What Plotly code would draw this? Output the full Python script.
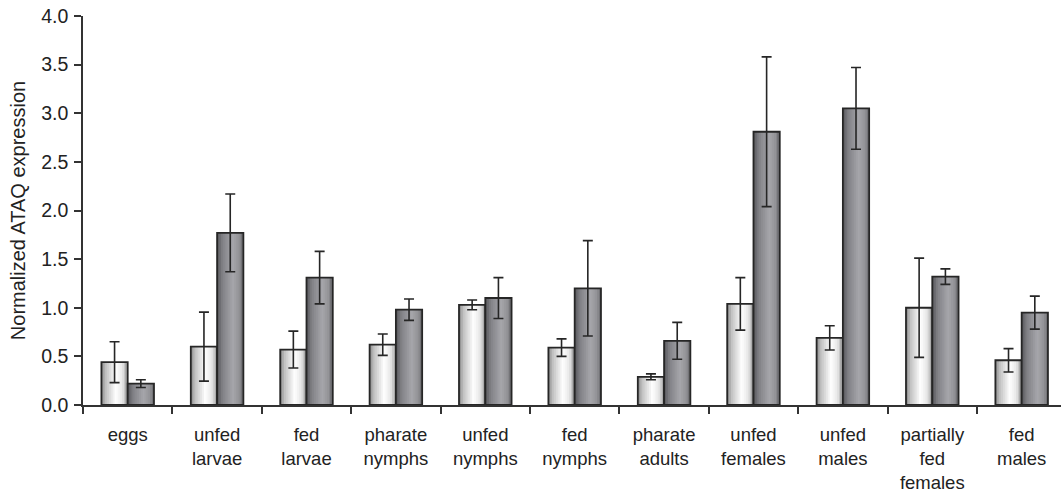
import plotly.graph_objects as go

categories = ["eggs", "unfed<br>larvae", "fed<br>larvae", "pharate<br>nymphs", "unfed<br>nymphs",
              "fed<br>nymphs", "pharate<br>adults", "unfed<br>females", "unfed<br>males",
              "partially<br>fed<br>females", "fed<br>males"]
light_vals = [0.44, 0.60, 0.57, 0.62, 1.03, 0.59, 0.29, 1.04, 0.69, 1.00, 0.46]
light_err = [0.21, 0.355, 0.19, 0.11, 0.05, 0.09, 0.03, 0.27, 0.125, 0.51, 0.12]
dark_vals = [0.22, 1.77, 1.31, 0.98, 1.10, 1.20, 0.66, 2.81, 3.05, 1.32, 0.95]
dark_err = [0.04, 0.40, 0.27, 0.11, 0.21, 0.49, 0.19, 0.77, 0.42, 0.08, 0.17]
y_ticks = [0.0, 0.5, 1.0, 1.5, 2.0, 2.5, 3.0, 3.5, 4.0]

BAR_W = 0.294
N_STRIPS = 14
LIGHT_STOPS = [(0.0, (0x86, 0x86, 0x86)), (0.15, (0xbe, 0xbe, 0xbe)), (0.55, (0xff, 0xff, 0xff)),
               (0.8, (0xe6, 0xe6, 0xe6)), (1.0, (0xa0, 0xa0, 0xa0))]
DARK_STOPS = [(0.0, (0x56, 0x56, 0x5a)), (0.2, (0x80, 0x80, 0x85)), (0.6, (0xa6, 0xa6, 0xab)),
              (0.85, (0x92, 0x92, 0x96)), (1.0, (0x6a, 0x6a, 0x6e))]


def grad(stops, t):
    for (t0, c0), (t1, c1) in zip(stops[:-1], stops[1:]):
        if t0 <= t <= t1:
            f = (t - t0) / (t1 - t0)
            r, g, b = (round(a + (b_ - a) * f) for a, b_ in zip(c0, c1))
            return f"rgb({r},{g},{b})"
    return "rgb(255,255,255)"


fig = go.Figure()
EDGE = "#262626"

for vals, errs, base_off, stops in [(light_vals, light_err, -BAR_W, LIGHT_STOPS),
                                    (dark_vals, dark_err, 0.0, DARK_STOPS)]:
    step = BAR_W / N_STRIPS
    for k in range(N_STRIPS):
        fig.add_trace(go.Bar(
            x=categories, y=vals, offset=base_off + k * step, width=BAR_W - k * step,
            marker=dict(color=grad(stops, (k + 0.5) / N_STRIPS), line=dict(width=0)),
            showlegend=False, hoverinfo="skip"))
    fig.add_trace(go.Bar(
        x=categories, y=vals, offset=base_off, width=BAR_W,
        marker=dict(color="rgba(0,0,0,0)", line=dict(color=EDGE, width=1.8)),
        error_y=dict(type="data", array=errs, visible=True, color=EDGE, thickness=1.6, width=5),
        showlegend=False))

fig.update_layout(
    width=1061, height=494,
    margin=dict(l=83, r=0, t=16, b=89),
    paper_bgcolor="white", plot_bgcolor="white",
    barmode="overlay",
    font=dict(family="Liberation Sans, Arial, sans-serif", color="#222222", size=18),
    xaxis=dict(type="category", range=[-0.5, 10.44], showline=True, linecolor="#333333", linewidth=1.5,
               ticks="outside", tickson="boundaries", ticklen=7, tickcolor="#333333", tickwidth=1.5,
               showgrid=False, zeroline=False, tickfont=dict(size=18.5), ticklabelstandoff=12),
    yaxis=dict(range=[0, 4], tickvals=y_ticks, tickformat=".1f", showline=True, linecolor="#333333",
               linewidth=1.5, ticks="outside", ticklen=7, tickcolor="#333333", tickwidth=1.5,
               showgrid=False, zeroline=False, tickfont=dict(size=19.5), ticklabelstandoff=2,
               title=dict(text="Normalized ATAQ expression", font=dict(size=20), standoff=10)),
)

fig.write_html("out.html")
